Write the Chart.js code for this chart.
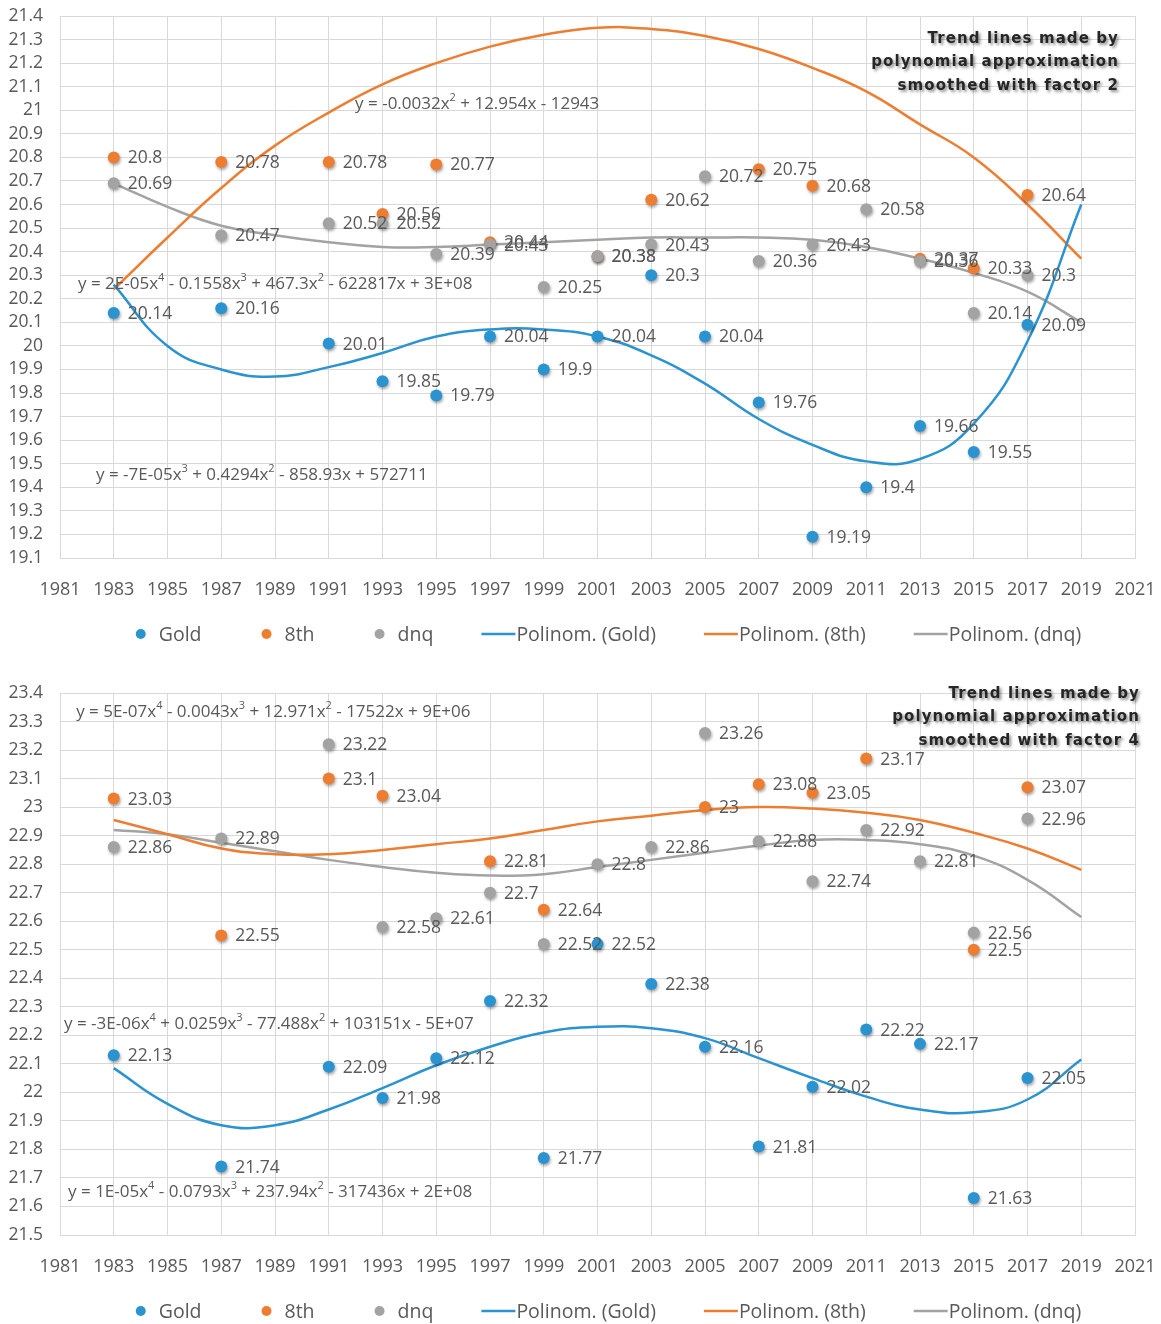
<!DOCTYPE html>
<html><head><meta charset="utf-8">
<script src="https://cdn.jsdelivr.net/npm/chart.js@4.4.0/dist/chart.umd.min.js"></script>
<style>
html,body{margin:0;padding:0;background:#fff;}
#w1{position:absolute;left:0;top:0;width:1161px;height:677px;}
#w2{position:absolute;left:0;top:677px;width:1161px;height:647px;}
</style></head><body>
<div id="w1"><canvas id="c1"></canvas></div>
<div id="w2"><canvas id="c2"></canvas></div>
<script>
// ---------- DATA ----------
const pointYears = [1983,1987,1991,1993,1995,1997,1999,2001,2003,2005,2007,2009,2011,2013,2015,2017];
const trendYears = [1983,1985,1987,1989,1991,1993,1995,1997,1999,2001,2003,2005,2007,2009,2011,2013,2015,2017,2019];
const seriesNames = ['Gold','8th','dnq'];
const trendNames = ['Polinom. (Gold)','Polinom. (8th)','Polinom. (dnq)'];

// top chart (factor 2)
const topGold = [20.14,20.16,20.01,19.85,19.79,20.04,19.9,20.04,20.3,20.04,19.76,19.19,19.4,19.66,19.55,20.09];
const top8th  = [20.8,20.78,20.78,20.56,20.77,20.44,null,20.38,20.62,null,20.75,20.68,null,20.37,20.33,20.64];
const topDnq  = [20.69,20.47,20.52,20.52,20.39,20.43,20.25,20.38,20.43,20.72,20.36,20.43,20.58,20.36,20.14,20.3];
const topTrendGold = [20.26,20.00,19.90,19.87,19.91,19.97,20.04,20.07,20.07,20.04,19.96,19.84,19.69,19.58,19.51,19.52,19.67,20.02,20.60];
const topTrend8th  = [20.24,20.46,20.67,20.85,20.99,21.11,21.20,21.27,21.32,21.35,21.345,21.315,21.26,21.18,21.08,20.94,20.80,20.60,20.37];
const topTrendDnq  = [20.69,20.59,20.51,20.47,20.44,20.42,20.42,20.43,20.44,20.45,20.46,20.46,20.46,20.45,20.42,20.37,20.31,20.23,20.10];

// bottom chart (factor 4)
const botGold = [22.13,21.74,22.09,21.98,22.12,22.32,21.77,22.52,22.38,22.16,21.81,22.02,22.22,22.17,21.63,22.05];
const bot8th  = [23.03,22.55,23.1,23.04,null,22.81,22.64,null,null,23,23.08,23.05,23.17,null,22.5,23.07];
const botDnq  = [22.86,22.89,23.22,22.58,22.61,22.7,22.52,22.8,22.86,23.26,22.88,22.74,22.92,22.81,22.56,22.96];
const botTrendGold = [22.085,21.96,21.885,21.885,21.94,22.015,22.095,22.16,22.21,22.23,22.225,22.19,22.12,22.05,21.985,21.94,21.93,21.975,22.115];
const botTrend8th  = [22.955,22.905,22.855,22.835,22.835,22.85,22.87,22.89,22.92,22.95,22.97,22.99,23.0,22.995,22.98,22.955,22.91,22.855,22.78];
const botTrendDnq  = [22.92,22.905,22.875,22.845,22.815,22.79,22.77,22.76,22.765,22.79,22.815,22.84,22.865,22.885,22.885,22.87,22.83,22.745,22.615];

const topEquations = [
  {text:'y = -0.0032x² + 12.954x - 12943', x:1991.98, y:21.027},
  {text:'y = 2E-05x⁴ - 0.1558x³ + 467.3x² - 622817x + 3E+08', x:1981.67, y:20.263},
  {text:'y = -7E-05x³ + 0.4294x² - 858.93x + 572711', x:1982.34, y:19.452}
];
const botEquations = [
  {text:'y = 5E-07x⁴ - 0.0043x³ + 12.971x² - 17522x + 9E+06', x:1981.6, y:23.333},
  {text:'y = -3E-06x⁴ + 0.0259x³ - 77.488x² + 103151x - 5E+07', x:1981.15, y:22.24},
  {text:'y = 1E-05x⁴ - 0.0793x³ + 237.94x² - 317436x + 2E+08', x:1981.3, y:21.651}
];
const topNote = ['Trend lines made by','polynomial approximation','smoothed with factor 2'];
const botNote = ['Trend lines made by','polynomial approximation','smoothed with factor 4'];

// ---------- STYLE ----------
const COLORS = ['#2A93D0','#ED7D31','#A3A3A3'];
const TEXT = '#595959';
const FONT = "'Open Sans', 'DejaVu Sans', sans-serif";

function pts(vals){ return pointYears.map((x,i)=>({x:x,y:vals[i]})).filter(p=>p.y!==null); }
function trd(vals){ return trendYears.map((x,i)=>({x:x,y:vals[i]})); }

function drawRich(ctx, text, x, y, size){
  const sup = {'²':'2','³':'3','⁴':'4'};
  let cx = x, run = '';
  const flush = ()=>{ if(run){ ctx.font = size+'px '+FONT; ctx.fillText(run,cx,y); cx += ctx.measureText(run).width; run=''; } };
  for (const ch of text){
    if (sup[ch]){ flush(); ctx.font = Math.round(size*0.62)+'px '+FONT; ctx.fillText(sup[ch],cx,y-size*0.38); cx += ctx.measureText(sup[ch]).width; }
    else run += ch;
  }
  flush();
}

const decoPlugin = {
  id:'deco',
  beforeDatasetDraw(chart,args){
    const ds = chart.data.datasets[args.index];
    if (!ds.showLine){
      const c = chart.ctx; c.save();
      c.shadowColor='rgba(0,0,0,0.35)'; c.shadowBlur=3; c.shadowOffsetX=1; c.shadowOffsetY=2;
    }
  },
  afterDatasetDraw(chart,args){
    const ds = chart.data.datasets[args.index];
    if (!ds.showLine) chart.ctx.restore();
  },
  afterDatasetsDraw(chart){
    const ctx = chart.ctx, o = chart.options.plugins.deco;
    ctx.save();
    ctx.fillStyle = TEXT; ctx.textBaseline='middle'; ctx.textAlign='left';
    ctx.font = '17.5px '+FONT;
    chart.data.datasets.forEach((ds,i)=>{
      if (ds.showLine) return;
      const meta = chart.getDatasetMeta(i);
      meta.data.forEach((el,j)=>{ ctx.fillText(String(ds.data[j].y), el.x+14, el.y+1); });
    });
    const xs = chart.scales.x, ys = chart.scales.y;
    o.equations.forEach(e=>{ drawRich(ctx, e.text, xs.getPixelForValue(e.x), ys.getPixelForValue(e.y), 17); });
    ctx.font = 'bold 15px "DejaVu Sans", sans-serif';
    ctx.letterSpacing = '1.1px';
    ctx.textAlign='right'; ctx.fillStyle='#262626';
    ctx.shadowColor='rgba(0,0,0,0.45)'; ctx.shadowBlur=3; ctx.shadowOffsetX=2; ctx.shadowOffsetY=2;
    o.note.forEach((t,k)=>{ ctx.fillText(t, chart.chartArea.right + o.noteDx, chart.chartArea.top + o.noteDy + k*23.5); });
    ctx.restore();
  },
  afterDraw(chart){
    const ctx = chart.ctx; ctx.save();
    ctx.font = '19.5px '+FONT; ctx.textBaseline='middle'; ctx.textAlign='left';
    const items = chart.data.datasets.map(ds=>({label:ds.label, color:ds.borderColor, line:!!ds.showLine}));
    const widths = items.map(it=> 35 + ctx.measureText(it.label).width);
    const gap = 48;
    const total = widths.reduce((a,b)=>a+b,0) + gap*(items.length-1);
    let x = (chart.chartArea.left+chart.chartArea.right)/2 + 5 - total/2;
    const y = chart.chartArea.bottom + 76;
    items.forEach((it,k)=>{
      if (it.line){
        ctx.strokeStyle = it.color; ctx.lineWidth = 2.5;
        ctx.beginPath(); ctx.moveTo(x, y); ctx.lineTo(x+34, y); ctx.stroke();
        ctx.fillStyle = TEXT; ctx.fillText(it.label, x+35, y+1);
      } else {
        ctx.fillStyle = it.color;
        ctx.beginPath(); ctx.arc(x+17, y, 5, 0, Math.PI*2); ctx.fill();
        ctx.fillStyle = TEXT; ctx.fillText(it.label, x+35, y+1);
      }
      x += widths[k] + gap;
    });
    ctx.restore();
  }
};

function zeroPad(s){ s.paddingTop = 0; s.paddingBottom = 0; s.paddingLeft = 0; s.paddingRight = 0; }

function makeChart(id, H, yMin, yMax, series, trends, equations, note, noteDx, noteDy){
  const datasets = [];
  series.forEach((s,i)=> datasets.push({label:seriesNames[i], data:pts(s), showLine:false,
     backgroundColor:COLORS[i], borderColor:COLORS[i], pointRadius:6, pointHoverRadius:6, pointBorderWidth:0, order:3-i}));
  trends.forEach((s,i)=> datasets.push({label:trendNames[i], data:trd(s), showLine:true,
     borderColor:COLORS[i], backgroundColor:COLORS[i], borderWidth:2.5, pointRadius:0, pointHoverRadius:0,
     tension:0.45, fill:false, order:10}));
  return new Chart(document.getElementById(id), {
    type:'scatter',
    data:{datasets},
    plugins:[decoPlugin],
    options:{
      responsive:true, maintainAspectRatio:false, animation:false, devicePixelRatio:1,
      layout:{autoPadding:false, padding:{top:16,right:26,left:0,bottom:0}},
      plugins:{legend:{display:false}, tooltip:{enabled:false},
        deco:{equations, note, noteDx, noteDy}},
      scales:{
        x:{type:'linear', min:1981, max:2021,
           ticks:{stepSize:2, color:TEXT, font:{family:FONT,size:18}, padding:21, maxRotation:0, autoSkip:false,
                  callback:v=>String(v)},
           grid:{color:'#D9D9D9', lineWidth:1, drawTicks:false},
           border:{color:'#D9D9D9'},
           afterFit:s=>{ s.height = H - 558; zeroPad(s); }},
        y:{min:yMin, max:yMax,
           ticks:{stepSize:0.1, color:TEXT, font:{family:FONT,size:17.5}, padding:17, autoSkip:false,
                  callback:v=>String(Math.round(v*10)/10)},
           grid:{color:'#D9D9D9', lineWidth:1, drawTicks:false},
           border:{color:'#D9D9D9'},
           afterFit:s=>{ s.width = 60; zeroPad(s); }}
      }
    }
  });
}

makeChart('c1', 677, 19.1, 21.4, [topGold, top8th, topDnq], [topTrendGold, topTrend8th, topTrendDnq], topEquations, topNote, -16, 23);
makeChart('c2', 647, 21.5, 23.4, [botGold, bot8th, botDnq], [botTrendGold, botTrend8th, botTrendDnq], botEquations, botNote, 5, 1);
</script>
</body></html>
